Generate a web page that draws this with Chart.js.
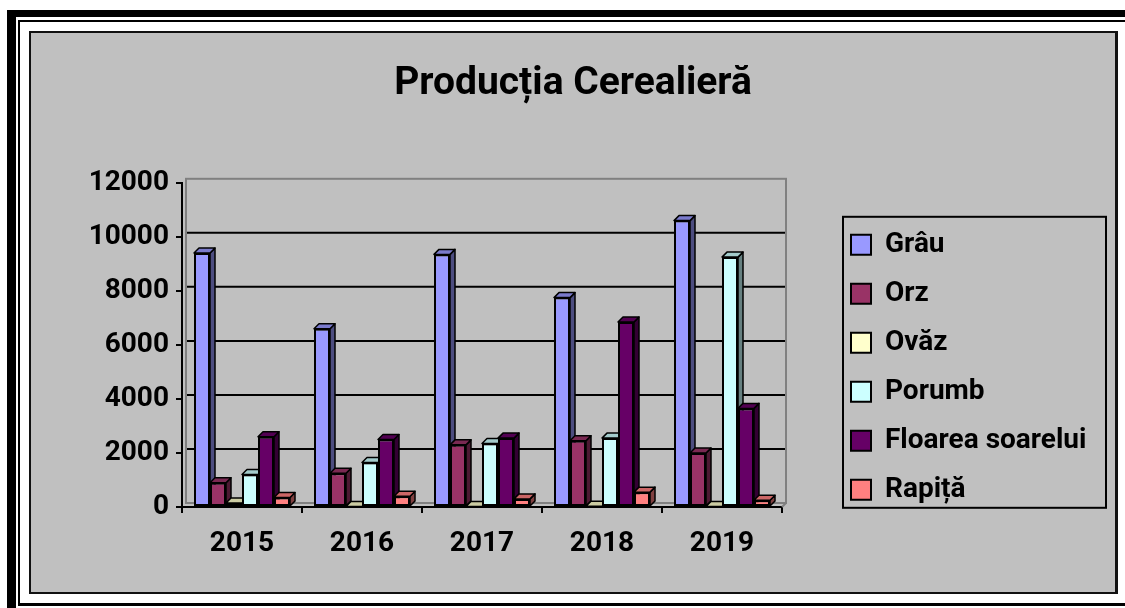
<!DOCTYPE html>
<html lang="ro">
<head>
    <meta charset="UTF-8">
    <title>Producția Cerealieră</title>
    <script src="https://cdn.jsdelivr.net/npm/chart.js@4.4.1/dist/chart.umd.min.js"></script>
    <style>
        html, body { margin: 0; padding: 0; background: #fff; overflow: hidden; width: 1125px; height: 608px; }
        .frame-thick { position: absolute; left: 7px; top: 10px; width: 2000px; height: 2000px;
                       border-top: 7px solid #000; border-left: 9px solid #000; }
        .frame-thin { position: absolute; left: 18px; top: 20px; width: 2000px; height: 581px;
                      border-top: 2px solid #000; border-left: 2px solid #000; border-bottom: 3px solid #000; }
        #box { position: absolute; left: 29px; top: 31px; width: 1084px; height: 559px;
               background: #c0c0c0; border: 2px solid #111; border-right-width: 3px; }
        canvas { display: block; }
    </style>
</head>
<body>
    <div class="frame-thick"></div>
    <div class="frame-thin"></div>
    <div id="box">
        <canvas id="myChart" width="1084" height="559"></canvas>
    </div>

    <script>
    // data
    const years = ['2015', '2016', '2017', '2018', '2019'];
    const grau = [9400, 6600, 9350, 7750, 10600];
    const orz = [900, 1250, 2300, 2450, 2000];
    const ovaz = [150, 20, 20, 30, 20];
    const porumb = [1200, 1650, 2350, 2550, 9250];
    const floarea = [2600, 2500, 2550, 6850, 3650];
    const rapita = [350, 400, 300, 550, 250];
    const yTicks = [0, 2000, 4000, 6000, 8000, 10000, 12000];

    const labels = ['Grâu', 'Orz', 'Ovăz', 'Porumb', 'Floarea soarelui', 'Rapiță'];
    const values = [grau, orz, ovaz, porumb, floarea, rapita];
    const colors = ['#9999FF', '#993366', '#FFFFCC', '#CCFFFF', '#660066', '#FF8080'];

    const DX = 5, DY = 5;      // depth of the 3d bars
    const WALL = 4;            // depth of the back wall

    function shade(hex, f) {
        const n = parseInt(hex.slice(1), 16);
        const r = Math.round(((n >> 16) & 255) * f);
        const g = Math.round(((n >> 8) & 255) * f);
        const b = Math.round((n & 255) * f);
        return `rgb(${r},${g},${b})`;
    }

    function poly(ctx, pts, fill) {
        ctx.beginPath();
        ctx.moveTo(pts[0][0], pts[0][1]);
        for (let i = 1; i < pts.length; i++) ctx.lineTo(pts[i][0], pts[i][1]);
        ctx.closePath();
        ctx.fillStyle = fill;
        ctx.fill();
        ctx.stroke();
    }

    // back wall, gridlines and the side/top faces of the bars
    const depthPlugin = {
        id: 'depth',
        beforeDatasetsDraw(chart) {
            const ctx = chart.ctx;
            const a = chart.chartArea;
            const y = chart.scales.y;
            ctx.save();
            ctx.strokeStyle = '#000';
            ctx.lineWidth = 2;
            y.ticks.forEach(t => {
                if (t.value === 0 || t.value === y.max) return;
                const py = y.getPixelForValue(t.value) - WALL;
                ctx.beginPath();
                ctx.moveTo(a.left + WALL, py);
                ctx.lineTo(a.right + WALL, py);
                ctx.stroke();
            });
            ctx.strokeStyle = '#808080';
            ctx.strokeRect(a.left + WALL, a.top - WALL, a.width, a.height);
            ctx.beginPath();
            ctx.moveTo(a.right, a.bottom);
            ctx.lineTo(a.right + WALL, a.bottom - WALL);
            ctx.stroke();

            ctx.strokeStyle = '#000';
            ctx.lineWidth = 1.5;
            ctx.lineJoin = 'round';
            for (let i = 0; i < years.length; i++) {
                chart.data.datasets.forEach((ds, d) => {
                    const el = chart.getDatasetMeta(d).data[i];
                    const p = el.getProps(['x', 'y', 'base', 'width'], true);
                    const l = p.x - p.width / 2, r = p.x + p.width / 2;
                    poly(ctx, [[r, p.y], [r + DX, p.y - DY], [r + DX, p.base - DY], [r, p.base]], shade(colors[d], 0.5));
                    poly(ctx, [[l, p.y], [l + DX, p.y - DY], [r + DX, p.y - DY], [r, p.y]], shade(colors[d], 0.8));
                });
            }
            ctx.restore();
        },
        afterLayout(chart) {
            // centre the title over the whole canvas
            const t = chart.titleBlock;
            t.left = 0;
            t.right = chart.width;
            // put the legend box where the picture has it
            const lg = chart.legend;
            const a = chart.chartArea;
            const h = lg.height;
            lg.left = a.right + 48;
            lg.top = a.top + 27;
            lg.width = 290;
            lg.right = lg.left + lg.width;
            lg.bottom = lg.top + h;
        },
        afterDraw(chart) {
            const lg = chart.legend;
            const ctx = chart.ctx;
            ctx.save();
            ctx.strokeStyle = '#000';
            ctx.lineWidth = 2;
            ctx.strokeRect(lg.left + 13, lg.top + 7, 263, 291);
            ctx.restore();
        }
    };

    Chart.defaults.font.family = 'Roboto';
    Chart.defaults.font.weight = 'bold';
    Chart.defaults.color = '#000';

    const ctx = document.getElementById('myChart').getContext('2d');
    new Chart(ctx, {
        type: 'bar',
        data: {
            labels: years,
            datasets: labels.map((name, i) => ({
                label: name,
                data: values[i],
                backgroundColor: colors[i],
                borderColor: '#000',
                borderWidth: 2,
                borderSkipped: false,
                categoryPercentage: 0.8,
                barPercentage: 1.0
            }))
        },
        options: {
            responsive: false,
            animation: false,
            devicePixelRatio: 1,
            layout: { padding: { left: 0, right: 83, top: 0, bottom: 0 } },
            plugins: {
                title: {
                    display: true,
                    text: 'Producția Cerealieră',
                    font: { size: 39, weight: 'bold' },
                    color: '#000',
                    padding: { top: 28, bottom: 75 }
                },
                legend: {
                    position: 'right',
                    align: 'start',
                    maxWidth: 250,
                    labels: {
                        boxWidth: 20,
                        boxHeight: 20,
                        padding: 21,
                        font: { size: 28, weight: 'bold' },
                        color: '#000'
                    }
                },
                tooltip: { enabled: false }
            },
            scales: {
                x: {
                    grid: { display: true, drawOnChartArea: false, drawTicks: true, tickLength: 6, color: '#000', lineWidth: 2, offset: true },
                    border: { display: true, color: '#000', width: 2 },
                    ticks: { font: { size: 28, weight: 'bold' }, padding: 14, color: '#000' },
                    afterFit(scale) { scale.height = 85; }
                },
                y: {
                    min: 0,
                    max: 12000,
                    afterBuildTicks(scale) { scale.ticks = yTicks.map(v => ({ value: v })); },
                    grid: { display: true, drawOnChartArea: false, drawTicks: true, tickLength: 6, color: '#000', lineWidth: 2 },
                    border: { display: true, color: '#000', width: 2 },
                    ticks: { font: { size: 28, weight: 'bold' }, padding: 7, color: '#000', callback: v => String(v) },
                    afterFit(scale) { scale.width = 151; }
                }
            }
        },
        plugins: [depthPlugin]
    });
    </script>
</body>
</html>
